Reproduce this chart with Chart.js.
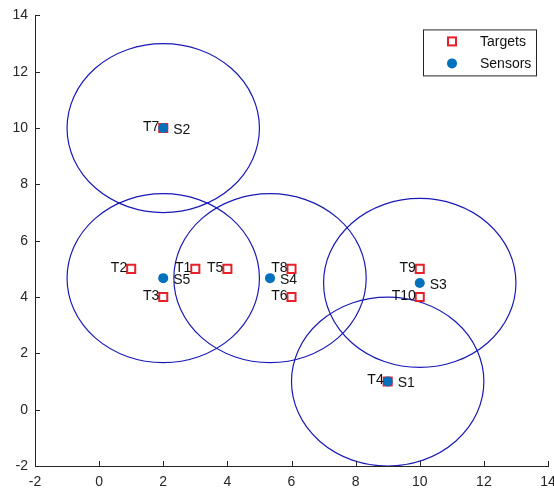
<!DOCTYPE html>
<html>
<head>
<meta charset="utf-8">
<script src="https://cdn.jsdelivr.net/npm/chart.js@4/dist/chart.umd.min.js"></script>
<style>
  html, body { margin: 0; padding: 0; background: #ffffff; }
  #wrap { width: 554px; height: 494px; position: relative; }
</style>
</head>
<body>
<div id="wrap"><canvas id="chart"></canvas></div>
<script>
// Target positions
const targetNames = ['T1', 'T2', 'T3', 'T4', 'T5', 'T6', 'T7', 'T8', 'T9', 'T10'];
const targetX = [3, 1, 2, 9, 4, 6, 2, 6, 10, 10];
const targetY = [5, 5, 4, 1, 5, 4, 10, 5, 5, 4];

// Sensor positions
const sensorNames = ['S1', 'S2', 'S3', 'S4', 'S5'];
const sensorX = [9, 2, 10, 5.33, 2];
const sensorY = [1, 10, 4.5, 4.67, 4.67];

// sensing radius (data units)
const sensingRange = 3;

const axisMin = -2;
const axisMax = 14;
const tickStep = 2;

const fontFamily = '"Liberation Sans", Arial, Helvetica, sans-serif';
const axisColor = '#262626';
const circleColor = '#1a1ab8';
const targetColor = '#e8202a';
const sensorColor = '#0072bd';

const toPoints = (xs, ys) => xs.map((x, i) => ({ x: x, y: ys[i] }));

// sensing range circles, drawn with the chart scales
const rangeCircles = {
  id: 'rangeCircles',
  beforeDatasetsDraw(chart) {
    const { ctx, chartArea, scales: { x, y } } = chart;
    ctx.save();
    ctx.beginPath();
    ctx.rect(chartArea.left, chartArea.top, chartArea.width, chartArea.height);
    ctx.clip();
    ctx.strokeStyle = circleColor;
    ctx.lineWidth = 1.2;
    sensorX.forEach((sx, i) => {
      const cx = x.getPixelForValue(sx);
      const cy = y.getPixelForValue(sensorY[i]);
      const rx = Math.abs(x.getPixelForValue(sx + sensingRange) - cx);
      const ry = Math.abs(y.getPixelForValue(sensorY[i] + sensingRange) - cy);
      ctx.beginPath();
      ctx.ellipse(cx, cy, rx, ry, 0, 0, Math.PI * 2);
      ctx.stroke();
    });
    ctx.restore();
  }
};

// point labels, axis ticks (inward), x tick labels and boxed legend
const decorations = {
  id: 'decorations',
  afterDatasetsDraw(chart) {
    const { ctx, scales: { x, y } } = chart;
    ctx.save();
    ctx.font = '14px ' + fontFamily;
    ctx.fillStyle = '#111111';
    ctx.textBaseline = 'middle';
    ctx.textAlign = 'right';
    targetNames.forEach((name, i) => {
      ctx.fillText(name, x.getPixelForValue(targetX[i]) - 4, y.getPixelForValue(targetY[i]) - 1);
    });
    ctx.textAlign = 'left';
    sensorNames.forEach((name, i) => {
      ctx.fillText(name, x.getPixelForValue(sensorX[i]) + 10, y.getPixelForValue(sensorY[i]) + 2);
    });
    ctx.restore();
  },
  afterDraw(chart) {
    const { ctx, chartArea, scales: { x, y } } = chart;
    ctx.save();
    ctx.strokeStyle = axisColor;
    ctx.lineWidth = 1;
    ctx.beginPath();
    x.ticks.forEach(t => {
      const px = Math.round(x.getPixelForValue(t.value)) + 0.5;
      ctx.moveTo(px, chartArea.bottom);
      ctx.lineTo(px, chartArea.bottom - 5);
    });
    y.ticks.forEach(t => {
      const py = Math.round(y.getPixelForValue(t.value)) + 0.5;
      ctx.moveTo(chartArea.left, py);
      ctx.lineTo(chartArea.left + 5, py);
    });
    ctx.stroke();

    // x tick labels (the last one runs off the canvas edge, as in the original)
    ctx.fillStyle = axisColor;
    ctx.font = '14px ' + fontFamily;
    ctx.textAlign = 'center';
    ctx.textBaseline = 'top';
    x.ticks.forEach(t => {
      ctx.fillText(String(t.value), x.getPixelForValue(t.value), chartArea.bottom + 9);
    });

    // legend box
    const bw = 113, bh = 46;
    const bx = chartArea.right - 12 - bw;
    const by = chartArea.top + 14;
    ctx.fillStyle = '#ffffff';
    ctx.fillRect(bx, by, bw, bh);
    ctx.strokeStyle = axisColor;
    ctx.strokeRect(bx + 0.5, by + 0.5, bw, bh);

    const items = chart.data.datasets.slice().sort((a, b) => b.order - a.order);
    items.forEach((ds, i) => {
      const my = by + 12 + i * 22;
      const mx = bx + 29;
      if (ds.pointStyle === 'rect') {
        ctx.strokeStyle = ds.pointBorderColor;
        ctx.lineWidth = 2;
        ctx.strokeRect(mx - 4, my - 4, 8, 8);
      } else {
        ctx.fillStyle = ds.pointBackgroundColor;
        ctx.beginPath();
        ctx.arc(mx, my, 5, 0, Math.PI * 2);
        ctx.fill();
      }
      ctx.fillStyle = '#111111';
      ctx.font = '14px ' + fontFamily;
      ctx.textBaseline = 'middle';
      ctx.textAlign = 'left';
      ctx.fillText(ds.label, bx + 57, my + 1);
    });
    ctx.restore();
  }
};

new Chart(document.getElementById('chart'), {
  type: 'scatter',
  data: {
    datasets: [
      {
        label: 'Targets',
        data: toPoints(targetX, targetY),
        order: 1,
        pointStyle: 'rect',
        pointRadius: 5.7,
        pointHoverRadius: 5.7,
        pointBorderWidth: 2,
        pointBorderColor: targetColor,
        pointBackgroundColor: 'rgba(255,255,255,0.9)'
      },
      {
        label: 'Sensors',
        data: toPoints(sensorX, sensorY),
        order: 0,
        pointStyle: 'circle',
        pointRadius: 5,
        pointHoverRadius: 5,
        pointBorderWidth: 0,
        pointBorderColor: sensorColor,
        pointBackgroundColor: sensorColor
      }
    ]
  },
  options: {
    responsive: true,
    maintainAspectRatio: false,
    animation: false,
    layout: { autoPadding: false, padding: { top: 14, right: 6, left: 0, bottom: 0 } },
    plugins: {
      legend: { display: false },
      tooltip: { enabled: false }
    },
    scales: {
      x: {
        type: 'linear',
        min: axisMin,
        max: axisMax,
        afterFit: scale => { scale.height = 28; },
        grid: { display: false, drawTicks: false },
        border: { display: true, color: axisColor, width: 1 },
        ticks: {
          display: false,
          stepSize: tickStep
        }
      },
      y: {
        type: 'linear',
        min: axisMin,
        max: axisMax,
        afterFit: scale => { scale.width = 35; },
        grid: { display: false, drawTicks: false },
        border: { display: true, color: axisColor, width: 1 },
        ticks: {
          stepSize: tickStep,
          padding: 7,
          color: axisColor,
          font: { size: 14, family: fontFamily }
        }
      }
    }
  },
  plugins: [rangeCircles, decorations]
});
</script>
</body>
</html>
